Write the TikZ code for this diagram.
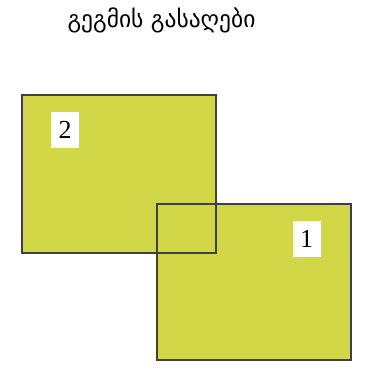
\documentclass[tikz,border=0pt]{standalone}
\usepackage{fontspec}
\usepackage{xcolor}
\usepackage{tikz}
\usetikzlibrary{positioning}
\newfontfamily\georgianfont{DejaVu Sans}
\newfontfamily\tagfont{Liberation Serif}
\definecolor{KEYgreen}{RGB}{210,215,72}

\begin{document}
\begin{tikzpicture}[x=1pt, y=-1pt,
    zone/.style={fill=KEYgreen},
    zoneedge/.style={draw=black!75, line width=1.1pt},
    tag/.style={fill=white, minimum width=28pt, minimum height=36pt, inner sep=0pt, font=\tagfont\fontsize{26}{30}\selectfont}]
        \useasboundingbox (0,0) rectangle (366,371);
        \node (title) at (161.5,20) {\georgianfont\fontsize{23.5}{26}\selectfont გეგმის გასაღები};
        \fill[zone] (22,95) rectangle (216,253);
        \fill[zone] (157,204) rectangle (351,360);
        \draw[zoneedge] (22,95) rectangle (216,253);
        \draw[zoneedge] (157,204) rectangle (351,360);
        \node[tag] (zonetwo) at (65,130) {2};
        \node[tag] (zoneone) at (306.5,238.5) {1};
      \end{tikzpicture}
\end{document}
